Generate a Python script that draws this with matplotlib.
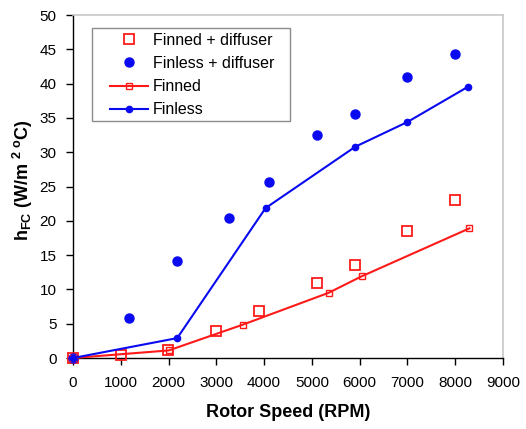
import matplotlib
matplotlib.use("Agg")
import matplotlib.pyplot as plt
from matplotlib.patches import Rectangle

plt.rcParams['font.family'] = ['Liberation Sans', 'DejaVu Sans']
plt.rcParams['mathtext.fontset'] = 'custom'
plt.rcParams['mathtext.rm'] = 'Liberation Sans'
plt.rcParams['mathtext.bf'] = 'Liberation Sans:bold'

# Measured convective heat-transfer coefficients vs rotor speed
finned_diff_rpm = [0, 1000, 1990, 3000, 3900, 5100, 5900, 7000, 8000]
finned_diff_h = [0.0, 0.4, 1.2, 3.9, 6.8, 10.95, 13.6, 18.55, 23.0]

finless_diff_rpm = [0, 1160, 2170, 3270, 4110, 5110, 5910, 7000, 8000]
finless_diff_h = [0.0, 5.8, 14.2, 20.35, 25.6, 32.5, 35.5, 41.0, 44.3]

finned_rpm = [0, 2000, 3550, 5350, 6040, 8300]
finned_h = [0.0, 1.1, 4.85, 9.5, 11.9, 18.9]

finless_rpm = [0, 2180, 4030, 5910, 7000, 8260]
finless_h = [0.0, 2.9, 21.85, 30.8, 34.4, 39.5]

red = '#ff1a1a'
blue = '#0a0af0'

fig = plt.figure(figsize=(5.26, 4.29), dpi=100)
ax = fig.add_axes([0.139, 0.1655, 0.817, 0.7995])

ax.plot(finned_diff_rpm, finned_diff_h, linestyle='none', marker='s',
        markersize=7.5, markerfacecolor='none', markeredgecolor=red,
        markeredgewidth=1.3, label='Finned + diffuser', zorder=3,
        clip_on=False)
ax.plot(finless_diff_rpm, finless_diff_h, linestyle='none', marker='o',
        markersize=6.5, color=blue, label='Finless + diffuser', zorder=3,
        clip_on=False)
ax.plot(finned_rpm, finned_h, color=red, linewidth=1.5, marker='s',
        markersize=4, markerfacecolor='none', markeredgecolor=red,
        markeredgewidth=1.0, label='Finned', zorder=4, clip_on=False)
ax.plot(finless_rpm, finless_h, color=blue, linewidth=1.5, marker='o',
        markersize=4.5, label='Finless', zorder=5, clip_on=False)

ax.set_xlim(0, 9000)
ax.set_ylim(0, 50)
ax.set_xticks(range(0, 9001, 1000))
ax.set_yticks(range(0, 51, 5))
ax.tick_params(axis='both', direction='out', length=5, width=1,
               labelsize=11, colors='black')
ax.tick_params(axis='x', pad=8)
ax.tick_params(axis='y', pad=7)

for side in ('top', 'right'):
    ax.spines[side].set_color('#c8c8c8')
    ax.spines[side].set_linewidth(1.2)
for side in ('left', 'bottom'):
    ax.spines[side].set_color('black')
    ax.spines[side].set_linewidth(1.0)

ax.set_xlabel('Rotor Speed (RPM)', fontsize=13, fontweight='bold', labelpad=10)
ax.set_ylabel(r'h$_{\mathbf{FC}}$ (W/m $^{\mathbf{2\ o}}$C)', fontsize=13,
              fontweight='bold', labelpad=4)
ax.yaxis.set_label_coords(-0.088, 0.52)

# Legend box drawn as its own frame so the inner padding can be set freely
box = Rectangle((0.0442, 0.691), 0.4605, 0.271, transform=ax.transAxes,
                facecolor='white', edgecolor='#8c8c8c', linewidth=1.0,
                zorder=6)
ax.add_patch(box)
leg = ax.legend(loc='upper left', bbox_to_anchor=(0.086, 0.949),
                fontsize=11.5, frameon=False,
                borderaxespad=0, borderpad=0, handlelength=2.4,
                handletextpad=0.3, labelspacing=0.52)
leg.set_zorder(7)

fig.savefig('out.png', dpi=100)
